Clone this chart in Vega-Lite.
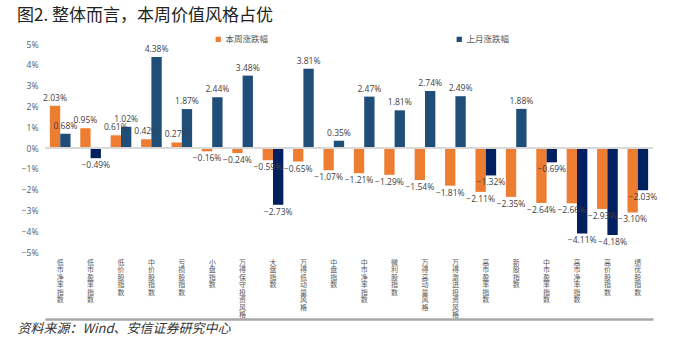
{
  "$schema": "https://vega.github.io/schema/vega-lite/v6.json",
  "autosize": "none",
  "width": 608,
  "height": 208,
  "padding": {"left": 45, "top": 44, "right": 45, "bottom": 99},
  "background": "white",
  "config": {
    "view": {"stroke": null},
    "font": "Noto Sans CJK SC",
    "text": {"font": "Noto Sans CJK SC"},
    "axis": {"labelOverlap": false},
    "axisX": {
      "labelAngle": 0, "labelBaseline": "top", "labelAlign": "center",
      "labelPadding": 6, "labelFontSize": 7, "labelLineHeight": 7.5,
      "labelColor": "#595959", "labelLimit": 0, "labelOverlap": false,
      "domain": false, "ticks": false, "grid": false
    },
    "axisY": {
      "labelFontSize": 8.5, "labelColor": "#595959", "labelPadding": 7,
      "labelFont": "Open Sans", "labelOverlap": false,
      "domain": false, "ticks": false, "grid": false
    }
  },
  "title": {
    "text": "图2. 整体而言，本周价值风格占优",
    "anchor": "start",
    "frame": "group",
    "dx": -28,
    "offset": 10,
    "fontSize": 17,
    "fontWeight": "normal",
    "color": "#222222",
    "font": "Noto Sans CJK SC"
  },
  "data": {
    "values": [
      {"cat": "低市净率指数", "series": "本周涨跌幅", "value": 0.0203},
      {"cat": "低市净率指数", "series": "上月涨跌幅", "value": 0.0068},
      {"cat": "低市盈率指数", "series": "本周涨跌幅", "value": 0.0095},
      {"cat": "低市盈率指数", "series": "上月涨跌幅", "value": -0.0049},
      {"cat": "低价股指数", "series": "本周涨跌幅", "value": 0.0061},
      {"cat": "低价股指数", "series": "上月涨跌幅", "value": 0.0102},
      {"cat": "中价股指数", "series": "本周涨跌幅", "value": 0.0042},
      {"cat": "中价股指数", "series": "上月涨跌幅", "value": 0.0438},
      {"cat": "亏损股指数", "series": "本周涨跌幅", "value": 0.0027},
      {"cat": "亏损股指数", "series": "上月涨跌幅", "value": 0.0187},
      {"cat": "小盘指数", "series": "本周涨跌幅", "value": -0.0016},
      {"cat": "小盘指数", "series": "上月涨跌幅", "value": 0.0244},
      {"cat": "万得保守投资风格", "series": "本周涨跌幅", "value": -0.0024},
      {"cat": "万得保守投资风格", "series": "上月涨跌幅", "value": 0.0348},
      {"cat": "大盘指数", "series": "本周涨跌幅", "value": -0.0059},
      {"cat": "大盘指数", "series": "上月涨跌幅", "value": -0.0273},
      {"cat": "万得低动量风格", "series": "本周涨跌幅", "value": -0.0065},
      {"cat": "万得低动量风格", "series": "上月涨跌幅", "value": 0.0381},
      {"cat": "中盘指数", "series": "本周涨跌幅", "value": -0.0107},
      {"cat": "中盘指数", "series": "上月涨跌幅", "value": 0.0035},
      {"cat": "中市净率指数", "series": "本周涨跌幅", "value": -0.0121},
      {"cat": "中市净率指数", "series": "上月涨跌幅", "value": 0.0247},
      {"cat": "微利股指数", "series": "本周涨跌幅", "value": -0.0129},
      {"cat": "微利股指数", "series": "上月涨跌幅", "value": 0.0181},
      {"cat": "万得高动量风格", "series": "本周涨跌幅", "value": -0.0154},
      {"cat": "万得高动量风格", "series": "上月涨跌幅", "value": 0.0274},
      {"cat": "万得激进投资风格", "series": "本周涨跌幅", "value": -0.0181},
      {"cat": "万得激进投资风格", "series": "上月涨跌幅", "value": 0.0249},
      {"cat": "高市盈率指数", "series": "本周涨跌幅", "value": -0.0211},
      {"cat": "高市盈率指数", "series": "上月涨跌幅", "value": -0.0132},
      {"cat": "新股指数", "series": "本周涨跌幅", "value": -0.0235},
      {"cat": "新股指数", "series": "上月涨跌幅", "value": 0.0188},
      {"cat": "中市盈率指数", "series": "本周涨跌幅", "value": -0.0264},
      {"cat": "中市盈率指数", "series": "上月涨跌幅", "value": -0.0069},
      {"cat": "高市净率指数", "series": "本周涨跌幅", "value": -0.0266},
      {"cat": "高市净率指数", "series": "上月涨跌幅", "value": -0.0411},
      {"cat": "高价股指数", "series": "本周涨跌幅", "value": -0.0293},
      {"cat": "高价股指数", "series": "上月涨跌幅", "value": -0.0418},
      {"cat": "绩优股指数", "series": "本周涨跌幅", "value": -0.0310},
      {"cat": "绩优股指数", "series": "上月涨跌幅", "value": -0.0203}
    ]
  },
  "resolve": {"axis": {"x": "independent"}},
  "layer": [
    {
      "mark": {"type": "bar"},
      "encoding": {
        "x": {
          "field": "cat", "type": "nominal", "sort": null,
          "scale": {"paddingInner": 0.32, "paddingOuter": 0.16},
          "axis": {
            "title": null,
            "labelFontSize": 7, "labelLineHeight": 7.5, "labelAngle": 0,
            "labelExpr": "split(datum.label, '')"
          }
        },
        "xOffset": {"field": "series", "type": "nominal", "sort": ["本周涨跌幅", "上月涨跌幅"]},
        "y": {
          "field": "value", "type": "quantitative",
          "scale": {"domain": [-0.05, 0.05], "nice": false},
          "axis": {
            "title": null, "tickCount": 10, "format": ".0%",
            "labelOverlap": false, "labelFontSize": 8.5
          }
        },
        "color": {
          "condition": {"test": "datum.series === '上月涨跌幅' && datum.value < 0", "value": "#002060"},
          "field": "series", "type": "nominal",
          "scale": {"domain": ["本周涨跌幅", "上月涨跌幅"], "range": ["#ED7D31", "#1F4E79"]},
          "legend": {
            "title": null, "orient": "none", "direction": "horizontal",
            "legendX": 169, "legendY": -9,
            "symbolType": "square", "symbolSize": 28, "symbolStrokeWidth": 0,
            "labelFontSize": 8.5, "labelColor": "#595959", "columnPadding": 186,
            "labelOffset": 3
          }
        }
      }
    },
    {
      "mark": {"type": "rule", "color": "#D9D9D9", "strokeWidth": 1},
      "encoding": {"y": {"datum": 0, "type": "quantitative"}}
    },
    {
      "transform": [{"filter": "datum.value >= 0"}],
      "mark": {"type": "text", "baseline": "bottom", "dy": -3, "fontSize": 8.5, "color": "#404040", "font": "Open Sans"},
      "encoding": {
        "x": {"field": "cat", "type": "nominal", "sort": null, "axis": null},
        "xOffset": {"field": "series", "type": "nominal", "sort": ["本周涨跌幅", "上月涨跌幅"]},
        "y": {"field": "value", "type": "quantitative"},
        "text": {"field": "value", "type": "quantitative", "format": ".2%"}
      }
    },
    {
      "transform": [{"filter": "datum.value < 0"}],
      "mark": {"type": "text", "baseline": "top", "dy": 3, "fontSize": 8.5, "color": "#404040", "font": "Open Sans"},
      "encoding": {
        "x": {
          "field": "cat", "type": "nominal", "sort": null,
          "axis": {
            "orient": "bottom", "offset": 67, "domain": true, "domainColor": "#A6A6A6", "domainWidth": 2.5,
            "ticks": false, "labels": false, "grid": false,
            "title": "资料来源：Wind、安信证券研究中心",
            "titleAnchor": "start", "titleAlign": "left", "titleBaseline": "top",
            "titleX": -28, "titleY": 3,
            "titleFontSize": 13, "titleFontWeight": "normal", "titleFontStyle": "italic",
            "titleColor": "#333333", "titleFont": "Noto Sans CJK SC"
          }
        },
        "xOffset": {"field": "series", "type": "nominal", "sort": ["本周涨跌幅", "上月涨跌幅"]},
        "y": {"field": "value", "type": "quantitative"},
        "text": {"field": "value", "type": "quantitative", "format": ".2%"}
      }
    }
  ]
}
